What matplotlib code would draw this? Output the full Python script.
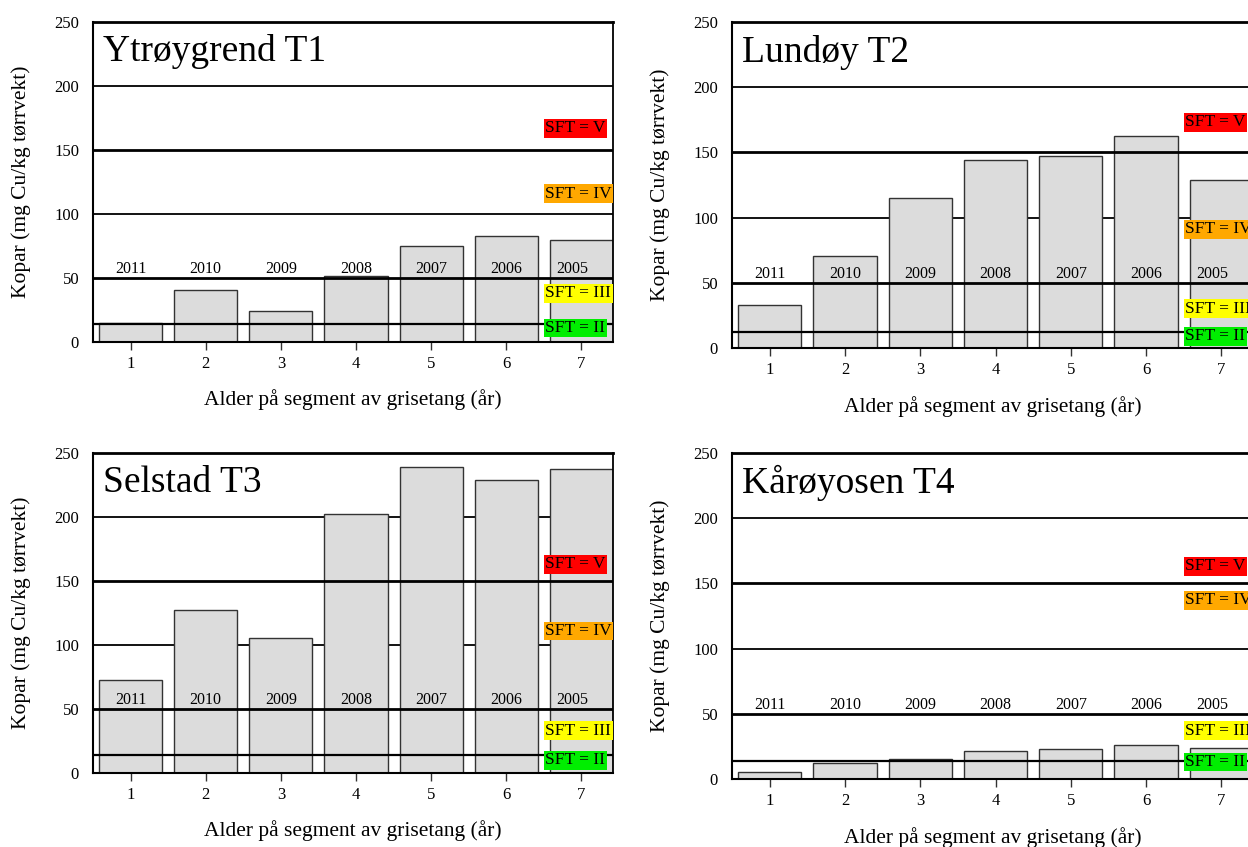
import matplotlib
matplotlib.use('Agg')
import matplotlib.pyplot as plt
import numpy as np

plt.rcParams['font.family'] = ['Liberation Serif', 'DejaVu Serif']

## data
segments = [1, 2, 3, 4, 5, 6, 7]
years = ['2011', '2010', '2009', '2008', '2007', '2006', '2005']

titles = ['Ytrøygrend T1', 'Lundøy T2', 'Selstad T3', 'Kårøyosen T4']
ytroygrend_t1 = [14.5, 40.4, 24.5, 51.8, 74.7, 83.1, 79.4]
lundoy_t2 = [32.7, 70.6, 115.4, 144.0, 147.4, 162.2, 129.0]
selstad_t3 = [72.8, 127.4, 105.2, 202.6, 238.9, 229.2, 237.6]
karoyosen_t4 = [5.6, 12.0, 15.3, 21.7, 23.0, 25.9, 23.5]
series = [ytroygrend_t1, lundoy_t2, selstad_t3, karoyosen_t4]

grid_levels = [100, 200]
sft_levels = [50, 150]
sft_low = [14, 12.5, 14, 14]
sft_names = ['SFT = V', 'SFT = IV', 'SFT = III', 'SFT = II']
sft_colors = ['#ff0000', '#ffa800', '#ffff00', '#00ee00']

yticks = [0, 50, 100, 150, 200, 250]
xlabel = 'Alder på segment av grisetang (år)'
ylabel = 'Kopar (mg Cu/kg tørrvekt)'

# label heights (where the coloured boxes sit in each panel)
sft_label_y = [[167, 116, 38, 11],
               [173, 91, 30, 9],
               [163, 111, 33, 10],
               [163, 137, 37, 13]]

W, H = 1248, 847
fig = plt.figure(figsize=(W / 100.0, H / 100.0), dpi=100)

# pixel boxes: left, top, right, bottom
boxes = [(93, 22, 613, 342),
         (732, 22, 1253, 348),
         (93, 453, 613, 773),
         (732, 453, 1253, 779)]

for i in range(4):
	l, t, r, b = boxes[i]
	ax = fig.add_axes([l / float(W), 1 - b / float(H), (r - l) / float(W), (b - t) / float(H)])
	vals = series[i]

	for g in grid_levels:
		ax.axhline(g, color='black', lw=1.3, zorder=1)
	ax.bar(segments, vals, width=0.84, color='#dcdcdc', edgecolor='#333333', lw=1.0, zorder=2)
	for g in sft_levels:
		ax.axhline(g, color='black', lw=2.0, zorder=3)
	ax.axhline(sft_low[i], color='black', lw=1.6, zorder=3)

	for k in range(len(segments)):
		dx = -0.12 if k == len(segments) - 1 else 0.0
		ax.text(segments[k] + dx, 57, years[k], ha='center', va='center', fontsize=11.5, zorder=4)

	for k in range(4):
		ax.text(6.52, sft_label_y[i][k], sft_names[k], ha='left', va='center', fontsize=12.5, zorder=5,
			bbox=dict(boxstyle='square,pad=0.08', fc=sft_colors[k], ec='none'))

	ax.text(0.02, 0.878, titles[i], transform=ax.transAxes, fontsize=27, ha='left', va='baseline', zorder=5)

	ax.set_xlim(0.5, 7.42)
	ax.set_ylim(0, 250)
	ax.set_xticks(segments)
	ax.set_yticks(yticks)
	ax.tick_params(axis='x', direction='out', length=6, width=1, color='#333333', labelsize=12, pad=4)
	ax.tick_params(axis='y', length=0, labelsize=12, pad=10)
	ax.spines['top'].set_linewidth(2)
	ax.spines['left'].set_linewidth(1.5)
	ax.spines['bottom'].set_linewidth(1.5)
	ax.spines['right'].set_linewidth(1.3)

	ax.set_xlabel(xlabel, fontsize=15.5)
	ax.set_ylabel(ylabel, fontsize=15.5)
	ax.xaxis.set_label_coords(0.5, -0.18)
	ax.yaxis.set_label_coords(-0.138, 0.5)
	ax.xaxis.label.set_va('center')
	ax.yaxis.label.set_va('center')

plt.savefig('out.png', dpi=100)
